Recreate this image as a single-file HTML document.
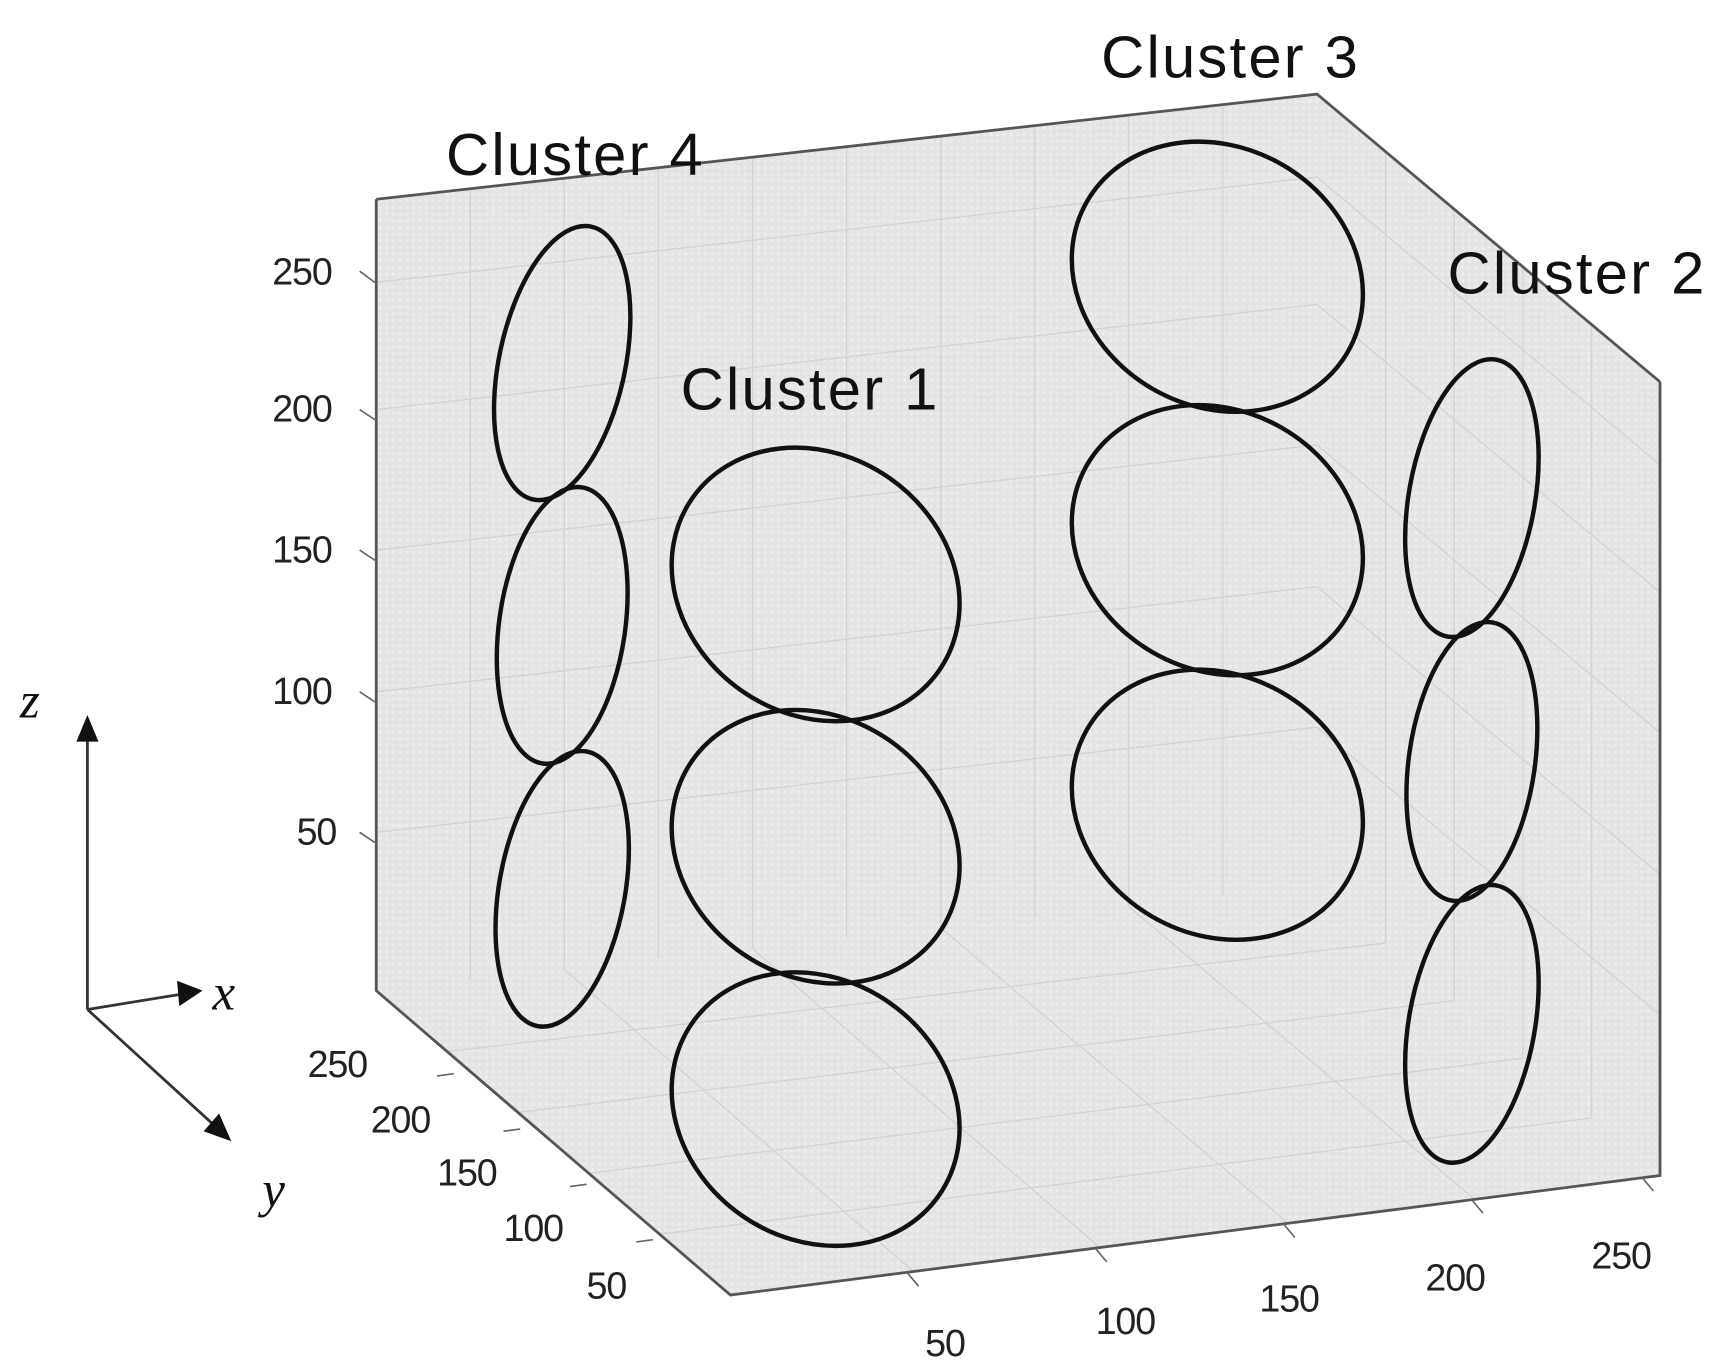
<!DOCTYPE html>
<html><head><meta charset="utf-8"><style>html,body{margin:0;padding:0;background:#fff}svg{display:block}</style></head>
<body>
<svg width="1722" height="1367" viewBox="0 0 1556 1235" preserveAspectRatio="none" xmlns="http://www.w3.org/2000/svg">
<defs>
<pattern id="g" width="6" height="6" patternUnits="userSpaceOnUse">
<rect width="6" height="6" fill="#e4e4e4"/><rect width="3" height="3" fill="#ececec"/>
</pattern>
</defs>
<polygon points="340,180 1190,85 1500,345 1500,1062 660,1170 340,895" fill="url(#g)"/>
<g stroke="#d2d2d2" stroke-width="1.2" fill="none">
<path d="M425,170V885 M510,161V876 M595,151V866 M680,142V857 M765,132V847 M850,123V838 M935,113V828 M1020,104V819 M1105,94V809"/>
<path d="M340,255L1190,160L1500,420 M340,370L1190,275L1500,535 M340,497L1190,402L1500,662 M340,625L1190,530L1500,790 M340,752L1190,657L1500,917"/>
<path d="M1252,137V852 M1314,189V904 M1376,241V956 M1438,293V1010"/>
<path d="M404,950L1252,852 M468,1005L1314,904 M532,1060L1376,956 M596,1115L1438,1010 M510,876L827,1150 M680,857L995,1128 M850,838L1165,1106 M1020,819L1333,1084"/>
</g>
<g stroke="#555" stroke-width="2.5" fill="none">
<polyline points="340,180 340,895 660,1170 1500,1062 1500,345"/>
<polyline points="340,180 1190,85 1500,345"/>
</g>
<g stroke="#666" stroke-width="1.5">
<path d="M325,245L340,256 M325,370L340,380 M325,497L340,507 M325,625L340,635 M325,752L340,762"/>
<path d="M410,970L395,972 M470,1020L455,1022 M530,1070L515,1072 M590,1120L575,1122"/>
<path d="M820,1150L830,1162 M990,1128L1000,1140 M1160,1106L1170,1118 M1330,1084L1340,1096 M1484,1064L1494,1076"/>
</g>
<g stroke="#111" stroke-width="4" fill="none">
<ellipse cx="508" cy="328" rx="57" ry="126" transform="rotate(12 508 328)"/>
<ellipse cx="508" cy="565" rx="57" ry="126" transform="rotate(8 508 565)"/>
<ellipse cx="508" cy="803" rx="57" ry="126" transform="rotate(10 508 803)"/>
<ellipse cx="737" cy="528" rx="136" ry="117" transform="rotate(35 737 528)"/>
<ellipse cx="737" cy="765" rx="136" ry="117" transform="rotate(35 737 765)"/>
<ellipse cx="737" cy="1002" rx="136" ry="117" transform="rotate(35 737 1002)"/>
<ellipse cx="1100" cy="250" rx="136" ry="117" transform="rotate(30 1100 250)"/>
<ellipse cx="1100" cy="488" rx="136" ry="117" transform="rotate(30 1100 488)"/>
<ellipse cx="1100" cy="727" rx="136" ry="117" transform="rotate(30 1100 727)"/>
<ellipse cx="1330" cy="450" rx="57" ry="127" transform="rotate(10 1330 450)"/>
<ellipse cx="1330" cy="688" rx="57" ry="127" transform="rotate(8 1330 688)"/>
<ellipse cx="1330" cy="925" rx="57" ry="127" transform="rotate(10 1330 925)"/>
</g>
<g font-family="Liberation Sans, sans-serif" font-size="54" fill="#111" letter-spacing="2">
<text x="403" y="158">Cluster 4</text>
<text x="615" y="370">Cluster 1</text>
<text x="995" y="70">Cluster 3</text>
<text x="1308" y="265">Cluster 2</text>
</g>
<g font-family="Liberation Sans, sans-serif" font-size="34" fill="#222" letter-spacing="-1">
<text x="246" y="257">250</text><text x="246" y="381">200</text><text x="246" y="508">150</text><text x="246" y="636">100</text><text x="268" y="763">50</text>
<text x="278" y="973">250</text><text x="335" y="1023">200</text><text x="395" y="1071">150</text><text x="455" y="1121">100</text><text x="530" y="1173">50</text>
<text x="836" y="1225">50</text><text x="990" y="1205">100</text><text x="1138" y="1185">150</text><text x="1288" y="1166">200</text><text x="1438" y="1146">250</text>
</g>
<g stroke="#333" stroke-width="2.5" fill="none">
<path d="M79,912V665 M79,912L165,898 M79,912L195,1018"/>
</g>
<g fill="#111">
<polygon points="79,646 69,670 89,670"/>
<polygon points="183,895 160,886 162,909"/>
<polygon points="209,1031 184,1022 198,1006"/>
</g>
<g font-family="Liberation Serif, serif" font-style="italic" font-size="46" fill="#111">
<text x="18" y="648">z</text><text x="192" y="912">x</text><text x="237" y="1090">y</text>
</g>
</svg>
</body></html>
